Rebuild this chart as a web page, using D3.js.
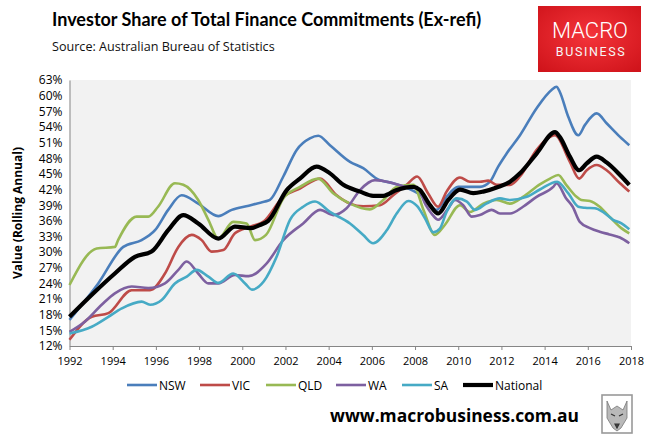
<!DOCTYPE html>
<html>
<head>
<meta charset="utf-8">
<style>
  body { margin: 0; background: #fff; }
  svg { display: block; }
  text { font-family: "Open Sans", sans-serif; }
</style>
</head>
<body>
<script src="https://d3js.org/d3.v7.min.js"></script>
<script>
  const width = 647;
  const height = 443;

  // values: [year, percent]
  const nsw = [[1992.0,17.0],[1993.33,24.0],[1994.49,31.0],[1995.34,32.3],[1995.96,34.2],[1996.57,38.1],[1997.19,40.9],
    [1997.96,39.3],[1998.89,36.9],[1999.51,38.1],[2000.3,38.9],[2001.05,39.7],[2001.28,40.0],[2001.9,44.5],[2002.52,49.6],
    [2003.13,51.8],[2003.52,52.3],[2004.06,50.5],[2004.99,47.3],[2005.6,46.1],[2006.22,44.1],[2006.99,43.2],[2007.69,42.2],
    [2008.38,40.6],[2009.0,38.1],[2009.46,40.6],[2010.0,42.5],[2011.0,42.5],[2011.47,43.5],[2011.85,46.4],[2012.24,48.9],
    [2012.86,52.4],[2013.63,57.6],[2014.32,61.1],[2014.55,61.7],[2014.7,60.75],[2015.09,56.0],[2015.56,52.4],[2015.87,54.4],
    [2016.41,56.6],[2016.87,54.7],[2017.49,52.1],[2017.92,50.5]];

  const vic = [[1992.0,13.2],[1993.03,17.6],[1993.8,18.3],[1994.88,22.7],[1995.73,22.7],[1996.42,25.9],[1997.04,31.0],
    [1997.66,33.3],[1998.12,32.3],[1998.58,30.1],[1999.12,30.4],[1999.66,33.6],[2000.4,34.9],[2001.0,35.9],[2001.9,40.6],
    [2002.67,42.2],[2003.6,44.1],[2004.37,40.9],[2004.99,39.3],[2005.6,38.8],[2006.38,39.0],[2006.99,40.9],[2007.61,42.9],
    [2008.1,44.5],[2008.6,41.3],[2009.07,38.7],[2009.46,41.6],[2010.08,44.3],[2010.54,43.5],[2011.0,43.5],[2011.39,43.7],
    [2011.78,42.9],[2012.4,42.9],[2012.86,44.5],[2013.63,49.6],[2014.48,52.4],[2015.17,47.3],[2015.6,44.1],[2015.95,45.7],
    [2016.41,46.7],[2016.87,45.7],[2017.49,43.2],[2017.92,41.6]];

  const qld = [[1992.0,23.7],[1993.26,30.7],[1994.1,31.0],[1994.25,32.3],[1995.11,36.8],[1995.65,36.8],[1996.1,38.7],
    [1996.88,43.2],[1997.27,42.9],[1997.96,40.0],[1998.43,36.2],[1998.89,32.6],[1999.58,35.8],[2000.2,35.5],[2000.59,32.3],
    [2001.1,33.3],[2001.9,40.3],[2002.67,42.5],[2003.52,44.1],[2004.21,41.3],[2004.99,39.3],[2005.91,38.2],[2006.53,40.0],
    [2007.15,42.5],[2007.92,42.9],[2008.4,38.0],[2008.92,33.3],[2009.38,35.2],[2010.08,39.0],[2010.54,37.7],[2011.16,39.3],
    [2011.78,40.0],[2012.4,39.3],[2013.0,40.6],[2013.78,43.0],[2014.25,44.1],[2014.63,44.8],[2015.0,42.9],[2015.48,40.6],
    [2015.7,40.0],[2016.1,39.8],[2016.55,38.7],[2017.0,36.8],[2017.55,34.6],[2017.92,33.6]];

  const wa = [[1992.0,14.7],[1992.72,16.7],[1993.49,19.9],[1994.1,22.1],[1994.88,23.4],[1995.65,23.1],[1996.42,24.0],
    [1997.04,26.6],[1997.43,28.2],[1997.96,25.9],[1998.43,24.0],[1998.89,24.0],[1999.66,25.6],[2000.3,25.4],[2001.1,27.7],
    [2001.9,32.3],[2002.82,35.5],[2003.6,38.1],[2004.21,37.1],[2004.83,38.4],[2005.45,41.9],[2006.14,43.8],[2006.99,43.2],
    [2007.61,42.5],[2008.1,42.3],[2008.5,39.0],[2008.8,37.2],[2009.07,36.2],[2009.54,38.4],[2009.85,40.0],[2010.23,39.0],
    [2010.62,36.8],[2011.0,37.1],[2011.55,38.1],[2011.93,37.4],[2012.4,37.4],[2013.0,38.7],[2013.63,40.6],[2014.4,42.5],
    [2014.55,43.2],[2015.0,40.3],[2015.3,38.7],[2015.63,35.8],[2016.1,34.6],[2016.55,33.9],[2017.0,33.4],[2017.49,32.8],
    [2017.92,31.7]];

  const sa = [[1992.0,14.4],[1993.03,15.7],[1993.8,17.6],[1994.42,19.2],[1995.34,20.5],[1995.73,19.9],[1996.27,20.8],
    [1996.88,24.0],[1997.43,25.3],[1997.89,26.6],[1998.43,25.3],[1998.89,24.1],[1999.58,25.9],[2000.13,24.0],[2000.45,22.8],
    [2001.0,24.4],[2001.59,29.1],[2002.21,36.2],[2002.82,38.7],[2003.37,39.7],[2004.06,37.7],[2004.99,35.5],[2005.6,33.3],
    [2006.06,31.7],[2006.69,34.2],[2007.15,37.4],[2007.69,39.8],[2008.1,38.8],[2008.46,36.5],[2008.85,33.8],[2009.15,34.5],
    [2009.46,37.7],[2009.93,40.3],[2010.4,39.7],[2010.77,38.1],[2011.3,39.3],[2011.93,40.3],[2012.4,40.0],[2013.17,40.6],
    [2013.78,42.0],[2014.58,43.5],[2015.09,41.3],[2015.56,38.7],[2015.87,38.5],[2016.33,38.4],[2016.7,37.7],[2017.17,36.2],
    [2017.56,35.5],[2017.92,34.4]];

  const national = [[1992.0,17.6],[1993.18,22.4],[1994.1,25.9],[1995.03,29.1],[1995.8,30.1],[1996.57,34.2],[1997.27,37.1],
    [1997.96,35.5],[1998.89,32.6],[1999.66,34.9],[2000.4,34.6],[2000.82,35.2],[2001.2,36.0],[2002.06,41.9],[2002.67,44.1],
    [2003.44,46.4],[2004.06,45.1],[2004.68,42.9],[2005.45,41.6],[2006.06,40.8],[2006.53,40.8],[2007.15,41.9],[2007.92,42.5],
    [2008.23,41.9],[2008.69,39.0],[2009.07,37.4],[2009.54,40.0],[2010.08,42.0],[2010.7,41.3],[2011.16,41.6],[2011.78,42.4],
    [2012.4,43.5],[2012.86,45.1],[2013.63,48.9],[2014.48,53.0],[2014.7,52.1],[2015.17,48.3],[2015.6,45.7],[2015.95,47.0],
    [2016.41,48.3],[2016.87,47.2],[2017.49,44.8],[2017.92,42.9]];

  const seriesNames = ["NSW", "VIC", "QLD", "WA", "SA", "National"];
  const seriesData = [nsw, vic, qld, wa, sa, national];
  const seriesColors = ["#4a7ebb", "#be4b48", "#98b954", "#7d60a0", "#46aac5", "#000000"];

  const yTicks = [12, 15, 18, 21, 24, 27, 30, 33, 36, 39, 42, 45, 48, 51, 54, 57, 60, 63];
  const xTicks = [1992, 1994, 1996, 1998, 2000, 2002, 2004, 2006, 2008, 2010, 2012, 2014, 2016, 2018];

  const plot = {left: 69.5, right: 631, top: 80, bottom: 346};

  const svg = d3.select("body").append("svg").attr("width", width).attr("height", height);

  const x = d3.scaleLinear().domain([1992, 2018]).range([plot.left, plot.right]);
  const y = d3.scaleLinear().domain([12, 63]).range([plot.bottom, plot.top]);

  // title + source
  svg.append("text").attr("x", 52).attr("y", 26)
    .style("font-family", "Lato, sans-serif").style("font-weight", "bold").style("font-size", "18px")
    .text("Investor Share of Total Finance Commitments (Ex-refi)");
  svg.append("text").attr("x", 52).attr("y", 51)
    .style("font-size", "12.6px").attr("fill", "#111")
    .text("Source: Australian Bureau of Statistics");

  // logo
  const defs = svg.append("defs");
  const grad = defs.append("radialGradient").attr("id", "logoGrad").attr("cx", "50%").attr("cy", "45%").attr("r", "70%");
  grad.append("stop").attr("offset", "0%").attr("stop-color", "#f4343a");
  grad.append("stop").attr("offset", "100%").attr("stop-color", "#d0141b");
  svg.append("rect").attr("x", 538).attr("y", 6).attr("width", 103).attr("height", 66).attr("fill", "url(#logoGrad)");
  svg.append("text").attr("x", 590).attr("y", 38).attr("text-anchor", "middle")
    .style("font-family", "Roboto, sans-serif").style("font-weight", 300).style("font-size", "22px").attr("fill", "#fff")
    .text("MACRO");
  svg.append("text").attr("x", 591).attr("y", 56).attr("text-anchor", "middle")
    .style("font-family", "Roboto, sans-serif").style("font-size", "12.5px").style("letter-spacing", "1.6px").attr("fill", "#f6f6f6")
    .text("BUSINESS");

  // plot background
  svg.append("rect").attr("x", plot.left).attr("y", plot.top)
    .attr("width", plot.right - plot.left).attr("height", plot.bottom - plot.top).attr("fill", "#f2f2f2");

  // y axis
  const yAxis = svg.append("g").attr("transform", `translate(${plot.left},0)`)
    .call(d3.axisLeft(y).tickValues(yTicks).tickFormat(d => d + "%").tickSize(0).tickPadding(7));
  yAxis.select(".domain").attr("stroke", "#868686");
  yAxis.selectAll("text").style("font-size", "12px").attr("fill", "#000").style("font-family", "Open Sans, sans-serif");

  // x axis
  const xAxis = svg.append("g").attr("transform", `translate(0,${plot.bottom})`)
    .call(d3.axisBottom(x).tickValues(xTicks).tickFormat(d3.format("d")).tickSizeInner(4).tickSizeOuter(0).tickPadding(7));
  xAxis.select(".domain").attr("stroke", "#868686");
  xAxis.selectAll("line").attr("stroke", "#868686");
  xAxis.selectAll("text").style("font-size", "11px").attr("fill", "#000").style("font-family", "Open Sans, sans-serif");

  // y title
  svg.append("text").attr("transform", "translate(22,213) rotate(-90)").attr("text-anchor", "middle")
    .style("font-weight", "bold").style("font-size", "12px").text("Value (Rolling Annual)");

  // lines
  const line = d3.line().x(d => x(d[0])).y(d => y(d[1])).curve(d3.curveMonotoneX);
  svg.append("g").selectAll("path").data(seriesData).join("path")
    .attr("d", line)
    .attr("fill", "none")
    .attr("stroke", (d, i) => seriesColors[i])
    .attr("stroke-width", (d, i) => seriesNames[i] == "National" ? 4.2 : 2.6)
    .attr("stroke-linejoin", "round");

  // legend
  const legendX = [127, 200, 266, 336, 402, 463];
  const lg = svg.append("g").selectAll("g").data(seriesNames).join("g")
    .attr("transform", (d, i) => `translate(${legendX[i]},385)`);
  lg.append("line").attr("x1", 0).attr("x2", 30).attr("y1", 0).attr("y2", 0)
    .attr("stroke", (d, i) => seriesColors[i])
    .attr("stroke-width", (d, i) => d == "National" ? 4.2 : 2.6);
  lg.append("text").attr("x", 32).attr("y", 4.5).style("font-size", "12px").text(d => d);

  // footer
  svg.append("text").attr("x", 330).attr("y", 422)
    .style("font-weight", "bold").style("font-size", "17.4px").text("www.macrobusiness.com.au");

  // wolf badge
  svg.append("rect").attr("x", 602).attr("y", 395).attr("width", 30).attr("height", 38)
    .attr("fill", "#fff").attr("stroke", "#999").attr("stroke-width", 1.6);
  svg.append("path").attr("d", "M607,401 L611,410 L617,406 L623,410 L627,401 L627,418 L621,428 L617,431 L613,428 L607,418 Z")
    .attr("fill", "#b9b9b9").attr("stroke", "#777").attr("stroke-width", 0.8);
  svg.append("path").attr("d", "M611,414 L615,416 M619,416 L623,414 M615,424 L619,424 L617,428 Z")
    .attr("fill", "#444").attr("stroke", "#333").attr("stroke-width", 1.2);
</script>
</body>
</html>
